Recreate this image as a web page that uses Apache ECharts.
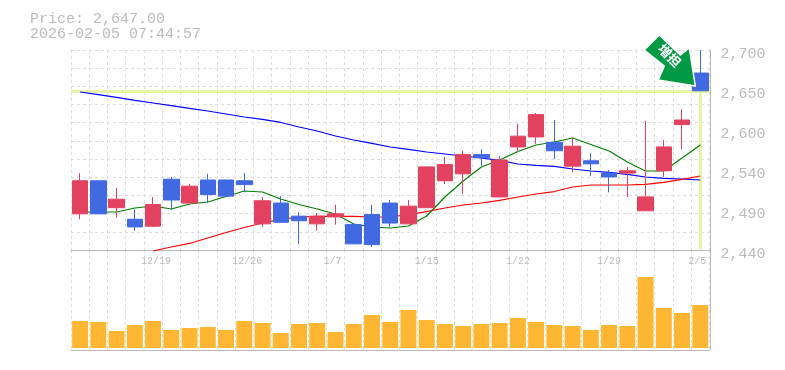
<!DOCTYPE html>
<html><head><meta charset="utf-8">
<style>html,body{margin:0;padding:0;background:#fff}#c{width:785px;height:370px}</style>
<script src="https://cdn.jsdelivr.net/npm/echarts@6/dist/echarts.min.js"></script>
</head><body><div id="c"></div>
<script>
const dates=['12/15','12/16','12/17','12/18','12/19','12/22','12/23','12/24','12/25','12/26','12/29','12/30','1/5','1/6','1/7','1/8','1/9','1/13','1/14','1/15','1/16','1/19','1/20','1/21','1/22','1/23','1/26','1/27','1/28','1/29','1/30','2/2','2/3','2/4','2/5'];
const shownDates=['12/19','12/26','1/7','1/15','1/22','1/29','2/5'];
const opens=[2487,2530,2495,2480,2471,2532,2501,2531,2531,2530,2474,2501,2484,2474,2483,2473,2486,2501,2474,2495,2530,2539,2564,2509,2574,2587,2580,2549,2556,2540,2540,2491,2543,2603,2670];
const closes=[2530,2487,2506,2470,2499,2505,2523,2512,2510,2525,2504,2476,2478,2484,2487,2448,2447,2475,2497,2548,2551,2564,2560,2557,2588,2616,2569,2575,2552,2535,2543,2509,2574,2609,2647];
const lows=[2480,2487,2482,2465,2470,2492,2501,2501,2510,2515,2470,2476,2448,2465,2473,2448,2444,2470,2474,2495,2526,2513,2549,2509,2567,2578,2558,2541,2536,2515,2509,2491,2535,2571,2647];
const highs=[2540,2530,2521,2493,2509,2535,2526,2539,2531,2540,2509,2510,2489,2488,2499,2475,2499,2505,2505,2548,2561,2569,2571,2562,2604,2618,2609,2586,2566,2544,2548,2608,2583,2623,2700];
const maLong=[2645.4,2641.9,2638.4,2634.6,2631.1,2627.6,2624,2620.7,2616.8,2612.9,2609.7,2605.8,2599.9,2594.7,2588.2,2583,2578.5,2573.9,2570.7,2567.4,2564.8,2562.2,2559.6,2556.4,2551.8,2549.9,2548.6,2545.3,2542.7,2540.8,2538.2,2534.9,2533,2532.3,2531];
const maMid=[null,null,null,null,2438.7,2443.9,2448.5,2455.6,2462.8,2469.3,2475.1,2479.7,2482.9,2483.6,2483.6,2483.6,2482.9,2482.9,2486,2490,2494.6,2498.5,2501.1,2504.4,2508.9,2512.8,2516,2521.9,2524.5,2524.5,2524.5,2525.2,2527.8,2531.7,2536.2];
const maShort=[2489.4,2489.4,2489.4,2494.6,2497.2,2493.3,2499.8,2502.4,2509.6,2516.7,2515.4,2506.3,2499.2,2493.3,2486.8,2473.8,2469.9,2468.6,2471.2,2484.2,2508.9,2529.7,2547.9,2557,2568,2576.5,2580.4,2585.6,2577.2,2568.7,2554.4,2542.7,2542.7,2559.6,2576.5];
const volumes=[27,26,17,23,27,18,20,21,18,27,25,15,24,25,16,24,33,26,38,28,24,22,24,25,30,26,23,22,18,23,22,71,40,35,43];
const priceTicks=[2440,2492,2544,2596,2648,2700];
const priceLabels=['2,440','2,490','2,540','2,600','2,650','2,700'];
const lastPrice=2647;
const titleText='Price: 2,647.00\n2026-02-05 07:44:57';
const badge='増担';

const GREY='#bbbbbb',GRID='#dddddd',MONO='"Liberation Mono",monospace';
const candles=dates.map((d,i)=>[opens[i],closes[i],lows[i],highs[i]]);
const gridValues=Array.from({length:12},(_,k)=>2440+k*260/11);
const last=dates[dates.length-1];
const dash={color:GRID,type:[3,3],width:1};
const rich={
 a:{fontFamily:MONO,fontSize:10,color:GREY,padding:[0,0,0,6]},
 b:{fontFamily:MONO,fontSize:10,color:GREY},
 c:{fontFamily:MONO,fontSize:10,color:GREY,padding:[0,6,0,0]}
};
const option={
 animation:false,
 backgroundColor:'#fff',
 title:{left:30,top:12,padding:0,text:titleText,textStyle:{fontFamily:MONO,fontSize:15,fontWeight:'normal',color:GREY,lineHeight:15}},
 grid:[{left:71,width:638.4,top:50,height:200},{left:71,width:638.4,top:250,height:100}],
 xAxis:[
  {type:'category',gridIndex:0,data:dates,boundaryGap:true,
   axisLine:{onZero:false,lineStyle:{color:GREY,width:1}},axisTick:{show:false},
   splitLine:{show:true,interval:0,lineStyle:dash},
   axisLabel:{show:true,margin:6,interval:(i,v)=>shownDates.includes(v),
     formatter:v=>v.length===5?`{a|${v}}`:v.length===4?`{b|${v}}`:`{c|${v}}`,rich}},
  {type:'category',gridIndex:1,data:dates,boundaryGap:true,
   axisLine:{onZero:false,lineStyle:{color:GREY,width:1}},axisTick:{show:false},axisLabel:{show:false},
   splitLine:{show:true,interval:0,lineStyle:dash}}
 ],
 yAxis:[
  {type:'value',gridIndex:0,position:'right',offset:1,min:2440,max:2700,
   axisLine:{show:true,lineStyle:{color:GREY,width:1}},
   axisTick:{show:false,customValues:priceTicks},splitLine:{show:false},
   axisLabel:{show:true,customValues:priceTicks,margin:10,
     formatter:v=>`{p|${priceLabels[priceTicks.indexOf(v)]}}`,
     rich:{p:{fontFamily:MONO,fontSize:15,color:GREY,padding:[8,0,0,0]}}}},
  {type:'value',gridIndex:0,position:'right',min:2440,max:2700,
   axisLine:{show:false},axisLabel:{show:false},
   axisTick:{show:false,customValues:gridValues},
   splitLine:{show:true,lineStyle:dash}},
  {type:'value',gridIndex:1,position:'right',offset:1,min:-2,max:98,
   axisLine:{show:true,lineStyle:{color:GREY,width:1}},axisTick:{show:false},axisLabel:{show:false},splitLine:{show:false}}
 ],
 series:[
  {name:'Current',type:'line',xAxisIndex:0,yAxisIndex:0,data:[],z:1,silent:true,
   markLine:{silent:true,z:1,symbol:'none',animation:false,label:{show:false},
    lineStyle:{color:'#e4f5a8',width:3,type:'solid'},
    data:[{yAxis:lastPrice},[{coord:[last,lastPrice]},{coord:[last,2441]}]]}},
  {name:'MA long',type:'line',xAxisIndex:0,yAxisIndex:0,data:maLong,showSymbol:false,z:2,lineStyle:{color:'#0000ff',width:1.2}},
  {name:'MA mid',type:'line',xAxisIndex:0,yAxisIndex:0,data:maMid,showSymbol:false,z:2,clip:false,lineStyle:{color:'#ff0000',width:1.2}},
  {name:'MA short',type:'line',xAxisIndex:0,yAxisIndex:0,data:maShort,showSymbol:false,z:2,lineStyle:{color:'#008000',width:1.2}},
  {name:'Price',type:'candlestick',xAxisIndex:0,yAxisIndex:0,data:candles,barWidth:16,z:3,
   itemStyle:{color:'#e2415f',color0:'#4169e1',borderColor:'#e2415f',borderColor0:'#4169e1',borderWidth:1},
   markPoint:{silent:true,animation:false,z:10,data:[{
     coord:[last,lastPrice],
     symbol:'path://M15 0L36 20L45 13L51 51L14 45L20 31L0 15Z',
     symbolSize:[51,51],symbolOffset:[-30.5,-30.3],
     itemStyle:{color:'#009944',borderColor:'#fff',borderWidth:1.5},
     label:{show:true,position:'inside',formatter:badge,rotate:-45,offset:[-3.5,-3.5],color:'#fff',fontSize:13,fontWeight:'bold',fontFamily:'"Noto Sans CJK JP"'}
   }]}},
  {name:'Volume',type:'bar',xAxisIndex:1,yAxisIndex:2,data:volumes,barWidth:16,itemStyle:{color:'#ffb733'}}
 ]
};
echarts.init(document.getElementById('c'),null,{renderer:'canvas'}).setOption(option);
</script></body></html>
